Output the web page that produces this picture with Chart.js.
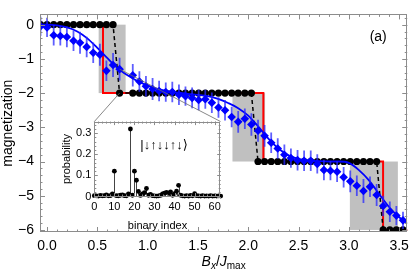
<!DOCTYPE html>
<html>
<head>
<meta charset="utf-8">
<script src="https://cdn.jsdelivr.net/npm/chart.js@4.4.1/dist/chart.umd.min.js"></script>
<style>
  html, body { margin: 0; padding: 0; background: #fff; }
  #wrap { position: relative; width: 415px; height: 273px; }
  #main { position: absolute; left: 0; top: 0; }
  #inset { position: absolute; left: 55px; top: 112px; }
</style>
</head>
<body>
<div id="wrap">
  <canvas id="main" width="415" height="273"></canvas>
  <canvas id="inset" width="170" height="122"></canvas>
</div>
<script>
// field values B_x/J_max of the measured points
const bx = [-0.065, 0.000, 0.066, 0.132, 0.197, 0.263, 0.328, 0.394, 0.459, 0.525,
  0.590, 0.656, 0.721, 0.787, 0.852, 0.918, 0.983, 1.049, 1.114, 1.180,
  1.245, 1.311, 1.376, 1.442, 1.507, 1.573, 1.638, 1.704, 1.769, 1.835,
  1.900, 1.966, 2.031, 2.097, 2.162, 2.228, 2.293, 2.359, 2.424, 2.490,
  2.555, 2.621, 2.686, 2.752, 2.817, 2.883, 2.948, 3.014, 3.079, 3.145,
  3.210, 3.276, 3.341, 3.407, 3.472, 3.538];

// black dots (dashed)
const groundMag = [0, 0, 0, 0, 0, 0, 0, 0, 0, 0, 0, 0,
  -2, null, -2, -2, -2, -2, -2, -2, -2, -2, -2, -2, -2, -2, -2, -2, -2, -2, -2, -2, -2,
  -4, -4, -4, -4, -4, -4, -4, -4, -4, -4, -4, -4, -4, -4, -4, -4, -4, -4, -4,
  -6, -6, -6, -6];

// blue diamonds and error bars
const measMag = [-0.05, -0.08, -0.31, -0.33, -0.36, -0.47, -0.53, -0.65, -0.82, -0.88,
  -1.35, -1.18, -1.30, null, -1.48, -1.66, -1.80, -1.88, -1.94, -1.97,
  -1.97, -2.05, -2.09, -2.14, -2.20, -2.18, -2.28, -2.42, -2.50, -2.70,
  -2.84, -2.75, -2.92, -3.10, -3.25, -3.45, -3.62, -3.80, -3.90, -3.96,
  -3.98, -3.98, -4.07, -4.25, -4.27, -4.30, -4.46, -4.58, -4.71, -4.86,
  -4.74, -4.98, -5.30, -5.47, -5.58, -5.72];
const measErr = [0.28, 0.28, 0.30, 0.28, 0.30, 0.30, 0.32, 0.30, 0.30, 0.32,
  0.30, 0.35, 0.33, 0, 0.33, 0.30, 0.30, 0.32, 0.30, 0.28,
  0.30, 0.30, 0.28, 0.30, 0.30, 0.28, 0.30, 0.30, 0.30, 0.30,
  0.32, 0.30, 0.33, 0.32, 0.32, 0.30, 0.30, 0.30, 0.28, 0.30,
  0.30, 0.30, 0.28, 0.30, 0.28, 0.30, 0.30, 0.32, 0.30, 0.35,
  0.30, 0.32, 0.30, 0.30, 0.28, 0.25];

// blue smooth curve
const fitX = [-0.07, 0.0, 0.1, 0.2, 0.3, 0.4, 0.5, 0.6, 0.7, 0.8, 0.9, 1.0, 1.1, 1.2, 1.3,
  1.4, 1.5, 1.6, 1.7, 1.8, 1.9, 2.0, 2.1, 2.2, 2.3, 2.4, 2.5, 2.6, 2.7, 2.8, 2.9,
  3.0, 3.1, 3.2, 3.3, 3.4, 3.5, 3.58];
const fitMag = [0.0, 0.0, -0.02, -0.08, -0.2, -0.4, -0.68, -0.98, -1.27, -1.48, -1.65, -1.78, -1.88, -1.95, -1.99,
  -2.02, -2.05, -2.09, -2.17, -2.29, -2.44, -2.66, -2.98, -3.33, -3.62, -3.82, -3.92, -3.97, -3.99, -4.0, -4.0,
  -4.04, -4.25, -4.55, -4.95, -5.33, -5.63, -5.8];

// red step
const stepX = [-0.07, 0.556, 2.15, 3.34, 3.6];
const stepMag = [0, -2, -4, -6, -6];

// gray bands
const bandX0 = [0.513, 1.843, 3.01];
const bandX1 = [0.781, 2.167, 3.487];
const bandTop = [0, -2, -4];
const bandBottom = [-2, -4, -6];

const xTicks = [0, 0.5, 1.0, 1.5, 2.0, 2.5, 3.0, 3.5];
const yTicks = [0, -1, -2, -3, -4, -5, -6];

// inset
const binIndex = [0, 1, 2, 3, 4, 5, 6, 7, 8, 9, 10, 11, 12, 13, 14, 15, 16, 17, 18, 19,
  20, 21, 22, 23, 24, 25, 26, 27, 28, 29, 30, 31, 32, 33, 34, 35, 36, 37, 38, 39,
  40, 41, 42, 43, 44, 45, 46, 47, 48, 49, 50, 51, 52, 53, 54, 55, 56, 57, 58, 59,
  60, 61, 62, 63];
const prob = [0.004, 0.003, 0.002, 0.005, 0.003, 0.004, 0.008, 0.003, 0.004, 0.012,
  0.120, 0.004, 0.003, 0.006, 0.008, 0.004, 0.003, 0.012, 0.320, 0.006,
  0.120, 0.077, 0.024, 0.005, 0.012, 0.018, 0.038, 0.006, 0.010, 0.004,
  0.003, 0.002, 0.003, 0.005, 0.012, 0.016, 0.020, 0.015, 0.022, 0.006,
  0.014, 0.025, 0.053, 0.006, 0.003, 0.002, 0.004, 0.002, 0.005, 0.003,
  0.013, 0.004, 0.003, 0.002, 0.004, 0.002, 0.003, 0.002, 0.004, 0.002,
  0.003, 0.002, 0.003, 0.002];
const insetXTicks = [0, 10, 20, 30, 40, 50, 60];
const insetYTicks = [0, 0.1, 0.2, 0.3];
const insetPoint = 12; // index in bx that the inset belongs to

Chart.defaults.font.family = "'Liberation Sans', Arial, sans-serif";
Chart.defaults.color = '#000';

const FRAME = '#8c8c8c';

function drawFrame(chart, xMajor, xMinor, yMajor, yMinor, majLen, minLen) {
  const { ctx, chartArea: a, scales: { x, y } } = chart;
  ctx.save();
  ctx.strokeStyle = FRAME;
  ctx.lineWidth = 1;
  ctx.strokeRect(Math.round(a.left) + 0.5, Math.round(a.top) + 0.5,
    Math.round(a.right - a.left) - 1, Math.round(a.bottom - a.top) - 1);
  ctx.beginPath();
  const xs = (v, len) => {
    const p = Math.round(x.getPixelForValue(v)) + 0.5;
    ctx.moveTo(p, a.bottom); ctx.lineTo(p, a.bottom - len);
    ctx.moveTo(p, a.top); ctx.lineTo(p, a.top + len);
  };
  const ys = (v, len) => {
    const p = Math.round(y.getPixelForValue(v)) + 0.5;
    ctx.moveTo(a.left, p); ctx.lineTo(a.left + len, p);
    ctx.moveTo(a.right, p); ctx.lineTo(a.right - len, p);
  };
  for (let k = Math.ceil(x.min / xMinor); k * xMinor <= x.max; k++) xs(k * xMinor, minLen);
  for (let k = Math.ceil(y.min / yMinor); k * yMinor <= y.max; k++) ys(k * yMinor, minLen);
  xMajor.forEach(v => xs(v, majLen));
  yMajor.forEach(v => ys(v, majLen));
  ctx.stroke();
  ctx.restore();
}

// ---------- inset ----------
const insetChart = new Chart(document.getElementById('inset'), {
  type: 'scatter',
  data: {
    datasets: [{
      data: binIndex.map((v, i) => ({ x: v, y: prob[i] })),
      pointRadius: 2.4,
      pointBackgroundColor: '#000',
      pointBorderWidth: 0,
      clip: false
    }]
  },
  options: {
    responsive: false,
    animation: false,
    layout: { padding: { left: 0, right: 4.3, top: 7.3, bottom: 0 } },
    plugins: { legend: { display: false }, tooltip: { enabled: false } },
    scales: {
      x: {
        type: 'linear', min: 0, max: 63,
        grid: { display: false, drawTicks: false }, border: { display: false },
        afterBuildTicks: s => { s.ticks = insetXTicks.map(v => ({ value: v })); },
        afterFit: s => { s.height = 37.5; },
        ticks: { padding: 4, font: { size: 11 }, maxRotation: 0, autoSkip: false }
      },
      y: {
        min: 0, max: 0.355,
        grid: { display: false, drawTicks: false }, border: { display: false },
        afterBuildTicks: s => { s.ticks = insetYTicks.map(v => ({ value: v })); },
        afterFit: s => { s.width = 39.3; },
        ticks: { padding: 3, font: { size: 11 }, callback: v => v === 0 ? '0' : v.toFixed(1) }
      }
    }
  },
  plugins: [{
    id: 'insetDecor',
    beforeDraw(chart) {
      const { ctx, chartArea: a } = chart;
      ctx.save();
      ctx.fillStyle = '#fff';
      ctx.fillRect(a.left, a.top, a.right - a.left, a.bottom - a.top);
      ctx.restore();
    },
    beforeDatasetsDraw(chart) {
      const { ctx, scales: { x, y } } = chart;
      ctx.save();
      ctx.strokeStyle = '#444';
      ctx.lineWidth = 1;
      ctx.beginPath();
      binIndex.forEach((v, i) => {
        const px = Math.round(x.getPixelForValue(v)) + 0.5;
        ctx.moveTo(px, y.getPixelForValue(0));
        ctx.lineTo(px, y.getPixelForValue(prob[i]));
      });
      ctx.stroke();
      ctx.restore();
    },
    afterDraw(chart) {
      drawFrame(chart, insetXTicks, 2, insetYTicks, 0.02, 3.5, 2);
      const { ctx, chartArea: a } = chart;
      ctx.save();
      ctx.fillStyle = '#000';
      ctx.font = "11px 'Liberation Sans', Arial, sans-serif";
      ctx.textAlign = 'center';
      ctx.textBaseline = 'middle';
      ctx.fillText('binary index', (a.left + a.right) / 2, a.bottom + 29);
      ctx.translate(12, (a.top + a.bottom) / 2);
      ctx.rotate(-Math.PI / 2);
      ctx.fillText('probability', 0, 0);
      ctx.restore();
      ctx.save();
      ctx.fillStyle = '#000';
      ctx.font = "13px 'Liberation Sans', 'DejaVu Sans', sans-serif";
      ctx.textAlign = 'left';
      ctx.textBaseline = 'middle';
      ctx.fillText('|\u2193\u2191\u2193\u2193\u2191\u2193\u27E9', a.left + 46, a.top + 24);
      ctx.restore();
    }
  }]
});

// ---------- main ----------
const mainChart = new Chart(document.getElementById('main'), {
  type: 'scatter',
  data: {
    datasets: [
      {
        label: 'measured',
        data: bx.map((v, i) => ({ x: v, y: measMag[i] })),
        pointStyle: 'rectRot',
        pointRadius: 4.3,
        pointBackgroundColor: '#0000ff',
        pointBorderWidth: 0,
        order: 1
      },
      {
        label: 'fit',
        type: 'line',
        data: fitX.map((v, i) => ({ x: v, y: fitMag[i] })),
        borderColor: '#0000ff',
        borderWidth: 1.8,
        pointRadius: 0,
        cubicInterpolationMode: 'monotone',
        order: 2
      },
      {
        label: 'ground',
        type: 'line',
        data: bx.map((v, i) => ({ x: v, y: groundMag[i] })),
        borderColor: '#000',
        borderWidth: 1.5,
        borderDash: [4, 3],
        pointRadius: 3.6,
        pointBackgroundColor: '#000',
        pointBorderWidth: 0,
        spanGaps: true,
        order: 3
      },
      {
        label: 'exact',
        type: 'line',
        data: stepX.map((v, i) => ({ x: v, y: stepMag[i] })),
        stepped: 'before',
        borderColor: '#ff0000',
        borderWidth: 2,
        pointRadius: 0,
        order: 4
      }
    ]
  },
  options: {
    responsive: false,
    animation: false,
    layout: { padding: { left: 0, right: 3, top: 1, bottom: 0 } },
    plugins: { legend: { display: false }, tooltip: { enabled: false } },
    scales: {
      x: {
        type: 'linear', min: -0.07, max: 3.58,
        grid: { display: false, drawTicks: false }, border: { display: false },
        afterBuildTicks: s => { s.ticks = xTicks.map(v => ({ value: v })); },
        afterFit: s => { s.height = 41; },
        ticks: { padding: 6, font: { size: 14 }, maxRotation: 0, autoSkip: false, callback: v => v.toFixed(1) }
      },
      y: {
        min: -6.06, max: 0.3,
        grid: { display: false, drawTicks: false }, border: { display: false },
        afterBuildTicks: s => { s.ticks = yTicks.map(v => ({ value: v })); },
        afterFit: s => { s.width = 40; },
        ticks: { padding: 6, font: { size: 14 }, callback: v => v < 0 ? '\u2212' + (-v) : String(v) }
      }
    }
  },
  plugins: [{
    id: 'mainDecor',
    beforeDatasetsDraw(chart) {
      const { ctx, chartArea: a, scales: { x, y } } = chart;
      ctx.save();
      ctx.beginPath();
      ctx.rect(a.left, a.top, a.right - a.left, a.bottom - a.top);
      ctx.clip();
      ctx.fillStyle = '#c0c0c0';
      bandX0.forEach((v, i) => {
        const x0 = x.getPixelForValue(v), x1 = x.getPixelForValue(bandX1[i]);
        const y0 = y.getPixelForValue(bandTop[i]), y1 = y.getPixelForValue(bandBottom[i]);
        ctx.fillRect(x0, y0, x1 - x0, y1 - y0);
      });
      ctx.restore();
    },
    beforeDatasetDraw(chart, args) {
      if (chart.data.datasets[args.index].label !== 'measured') return;
      const { ctx, chartArea: a, scales: { x, y } } = chart;
      ctx.save();
      ctx.beginPath();
      ctx.rect(a.left, a.top, a.right - a.left, a.bottom - a.top);
      ctx.clip();
      ctx.strokeStyle = 'rgba(40, 40, 255, 0.75)';
      ctx.lineWidth = 1.8;
      ctx.beginPath();
      bx.forEach((v, i) => {
        if (measMag[i] === null) return;
        const px = x.getPixelForValue(v);
        ctx.moveTo(px, y.getPixelForValue(measMag[i] + measErr[i]));
        ctx.lineTo(px, y.getPixelForValue(measMag[i] - measErr[i]));
      });
      ctx.stroke();
      ctx.restore();
    },
    afterDraw(chart) {
      drawFrame(chart, xTicks, 0.1, yTicks, 0.2, 5, 2.5);
      const { ctx, chartArea: a, scales: { x, y } } = chart;

      // callout lines to the inset
      const ia = insetChart.chartArea;
      const offX = 55, offY = 112;
      const px = x.getPixelForValue(bx[insetPoint]);
      ctx.save();
      ctx.strokeStyle = '#6a6a6a';
      ctx.lineWidth = 0.8;
      ctx.beginPath();
      ctx.moveTo(px, y.getPixelForValue(groundMag[insetPoint]));
      ctx.lineTo(offX + ia.left, offY + ia.top);
      ctx.moveTo(px, y.getPixelForValue(measMag[insetPoint]));
      ctx.lineTo(offX + ia.right, offY + ia.top);
      ctx.stroke();
      ctx.restore();

      ctx.save();
      ctx.fillStyle = '#000';
      ctx.font = "14px 'Liberation Sans', Arial, sans-serif";
      ctx.textAlign = 'center';
      ctx.textBaseline = 'middle';
      ctx.fillText('(a)', a.right - 29, a.top + 23);

      // y title
      ctx.save();
      ctx.translate(8, (a.top + a.bottom) / 2);
      ctx.rotate(-Math.PI / 2);
      ctx.fillText('magnetization', 0, 0);
      ctx.restore();

      // x title: B_x / J_max
      const big = "italic 14px 'Liberation Sans', Arial, sans-serif";
      const subI = "italic 10px 'Liberation Sans', Arial, sans-serif";
      const subR = "10px 'Liberation Sans', Arial, sans-serif";
      const slash = "14px 'Liberation Sans', Arial, sans-serif";
      const parts = [['B', big, 0], ['x', subI, 3], ['/', slash, 0], ['J', big, 0], ['max', subR, 3]];
      let total = 0;
      parts.forEach(p => { ctx.font = p[1]; total += ctx.measureText(p[0]).width; });
      let cx = (a.left + a.right) / 2 - total / 2;
      ctx.textAlign = 'left';
      ctx.textBaseline = 'alphabetic';
      parts.forEach(p => {
        ctx.font = p[1];
        ctx.fillText(p[0], cx, 266 + p[2]);
        cx += ctx.measureText(p[0]).width;
      });
      ctx.restore();
    }
  }]
});
</script>
</body>
</html>
